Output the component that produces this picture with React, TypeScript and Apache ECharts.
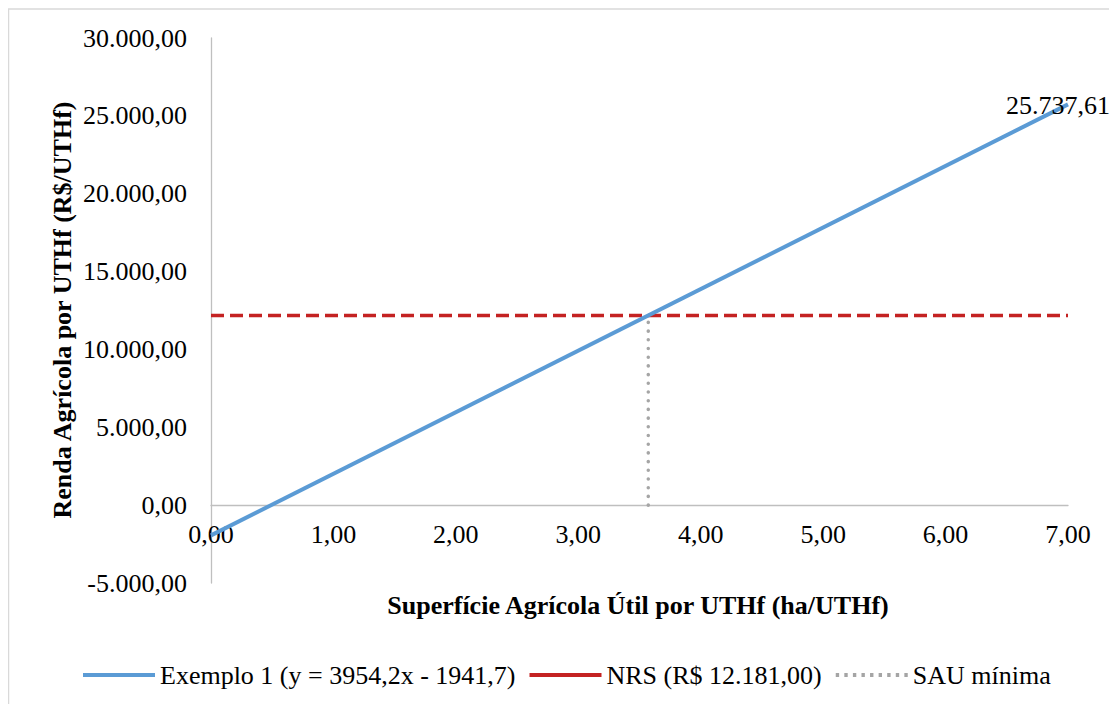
import React, { useEffect, useRef } from "react";
import * as echarts from "echarts";

// ---- data ----
const seriesNames = ["Exemplo 1 (y = 3954,2x - 1941,7)", "NRS (R$ 12.181,00)", "SAU mínima"];
const exemploX = [0, 7];
const exemploY = [-1941.7, 25737.61];
const nrsX = [0, 7];
const nrsY = [12181, 12181];
const sauX = [3.5716, 3.5716];
const sauY = [0, 12181];
const xTicks = [0, 1, 2, 3, 4, 5, 6, 7];
const yTicks = [-5000, 0, 5000, 10000, 15000, 20000, 25000, 30000];
const xTitle = "Superfície Agrícola Útil por UTHf (ha/UTHf)";
const yTitle = "Renda Agrícola por UTHf (R$/UTHf)";
const endLabel = "25.737,61";

const FONT = "Liberation Serif, Times New Roman, serif";

function fmtBR(v: number): string {
  const neg = v < 0;
  const s = Math.abs(v).toFixed(2);
  const [int, dec] = s.split(".");
  const withDots = int.replace(/\B(?=(\d{3})+(?!\d))/g, ".");
  return (neg ? "-" : "") + withDots + "," + dec;
}

const zip = (xs: number[], ys: number[]) => xs.map((x, i) => [x, ys[i]]);

const solidIcon = "path://M0,0H72V4H0Z";
const dotIcon =
  "path://" +
  Array.from({ length: 9 }, (_, i) => `M${i * 8.6},0h3.4v4h-3.4Z`).join("") +
  "M72,0h0.01v4h-0.01Z";

export default function App() {
  const ref = useRef<HTMLDivElement>(null);
  useEffect(() => {
    if (!ref.current) return;
    const chart = echarts.init(ref.current, undefined, { renderer: "svg" });
    // pixel distance from plot bottom to y=0
    const plotH = 696 - 30 - 121;
    const zeroOffset = (plotH * (0 - yTicks[0])) / (yTicks[yTicks.length - 1] - yTicks[0]);
    chart.setOption({
      animation: false,
      backgroundColor: "#fff",
      textStyle: { fontFamily: FONT },
      grid: { left: 203, right: 49, top: 30, bottom: 121, containLabel: false },
      xAxis: {
        type: "value",
        min: xTicks[0],
        max: xTicks[xTicks.length - 1],
        interval: 1,
        position: "bottom",
        offset: -zeroOffset,
        axisLine: { show: true, onZero: false, lineStyle: { color: "#BFBFBF", width: 1.3 } },
        axisTick: { show: false },
        splitLine: { show: false },
        axisLabel: {
          margin: 16,
          fontFamily: FONT,
          fontSize: 26,
          color: "#000",
          formatter: (v: number) => v.toFixed(2).replace(".", ","),
        },
      },
      yAxis: {
        type: "value",
        min: yTicks[0],
        max: yTicks[yTicks.length - 1],
        interval: 5000,
        axisLine: { show: true, onZero: false, lineStyle: { color: "#BFBFBF", width: 1.3 } },
        axisTick: { show: false },
        splitLine: { show: false },
        axisLabel: {
          margin: 24,
          fontFamily: FONT,
          fontSize: 26,
          color: "#000",
          formatter: (v: number) => fmtBR(v),
        },
      },
      legend: {
        left: 70,
        top: 649,
        itemWidth: 72,
        itemHeight: 4,
        itemGap: 14,
        textStyle: { fontFamily: FONT, fontSize: 26, color: "#000" },
        data: [
          { name: seriesNames[0], icon: solidIcon },
          { name: seriesNames[1], icon: solidIcon },
          { name: seriesNames[2], icon: dotIcon },
        ],
      },
      graphic: [
        {
          type: "rect",
          shape: { x: 0.5, y: 1, width: 1200, height: 800 },
          style: { fill: "none", stroke: "#D9D9D9", lineWidth: 1.5 },
          silent: true,
          z: -1,
        },
        {
          type: "text",
          x: 630,
          y: 597,
          style: {
            text: xTitle,
            fontFamily: FONT,
            fontSize: 26,
            fontWeight: "bold",
            fill: "#000",
            align: "center",
            verticalAlign: "middle",
          },
        },
        {
          type: "text",
          x: 54,
          y: 302,
          rotation: Math.PI / 2,
          style: {
            text: yTitle,
            fontFamily: FONT,
            fontSize: 26,
            fontWeight: "bold",
            fill: "#000",
            align: "center",
            verticalAlign: "middle",
          },
        },
      ],
      series: [
        {
          name: seriesNames[0],
          type: "line",
          data: zip(exemploX, exemploY),
          symbol: "none",
          lineStyle: { color: "#5B9BD5", width: 4 },
          itemStyle: { color: "#5B9BD5" },
          endLabel: {
            show: true,
            formatter: () => endLabel,
            offset: [-70, 1],
            fontFamily: FONT,
            fontSize: 26,
            color: "#000",
          },
          z: 3,
        },
        {
          name: seriesNames[1],
          type: "line",
          data: zip(nrsX, nrsY),
          symbol: "none",
          lineStyle: { color: "#C42222", width: 3.5, type: [13, 6] },
          itemStyle: { color: "#C42222" },
          z: 2,
        },
        {
          name: seriesNames[2],
          type: "line",
          data: zip(sauX, sauY),
          symbol: "none",
          lineStyle: { color: "#A5A5A5", width: 3.5, type: [0.1, 8.6], cap: "round" },
          itemStyle: { color: "#A5A5A5" },
          z: 1,
        },
      ],
    });
    return () => chart.dispose();
  }, []);
  return <div ref={ref} style={{ width: 1109, height: 696 }} />;
}
